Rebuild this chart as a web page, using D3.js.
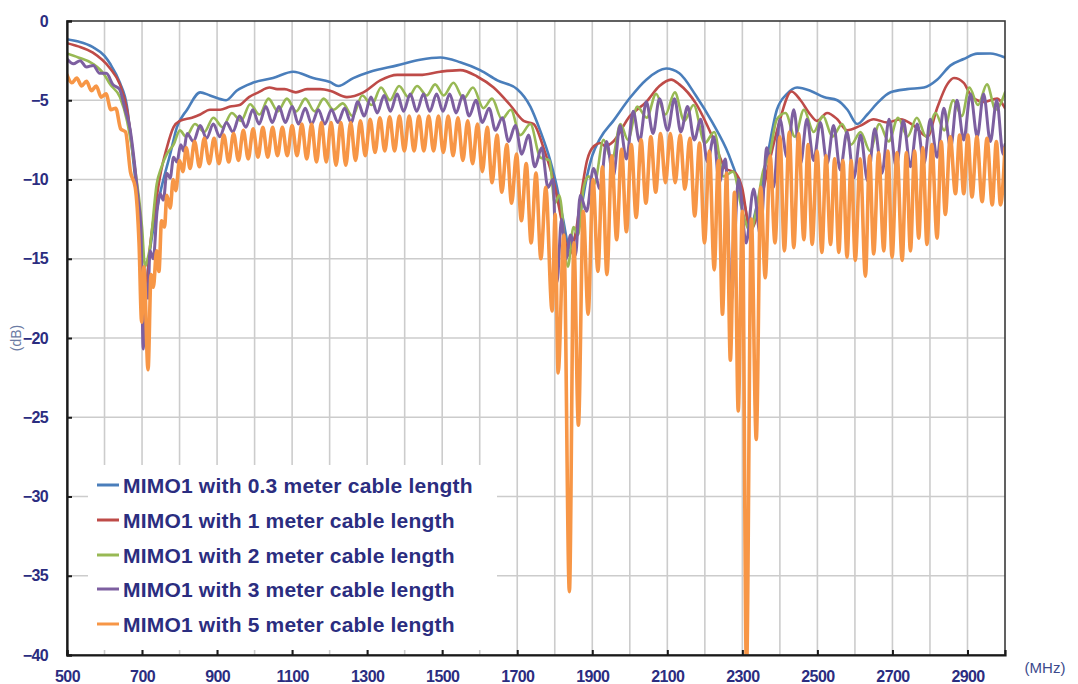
<!DOCTYPE html>
<html><head><meta charset="utf-8">
<script src="https://cdn.jsdelivr.net/npm/d3@7"></script>
<style>body{margin:0;background:#fff}svg{display:block}</style>
</head><body><svg id="c" width="1078" height="684"></svg>
<script>
const xTickLabels=[500,700,900,1100,1300,1500,1700,1900,2100,2300,2500,2700,2900];
const yTickLabels=[0,-5,-10,-15,-20,-25,-30,-35,-40];
const seriesNames=["MIMO1 with 0.3 meter cable length","MIMO1 with 1 meter cable length","MIMO1 with 2 meter cable length","MIMO1 with 3 meter cable length","MIMO1 with 5 meter cable length"];
const seriesColors=["#4a7ebb","#be4b48","#98b954","#7d5fa0","#f79646"];

// [MHz, dB]
const cable03=[[500,-1.15],[530,-1.3],[569,-1.65],[600,-2.2],[615,-2.7],[641,-3.9],[660,-5.4],[673,-8.0],[686,-10.9],[695,-13.0],[705,-17.8],[712,-16.5],[721,-14.5],[735,-12.5],[748,-10.9],[775,-8.4],[793,-6.7],[820,-5.6],[855,-4.5],[881,-4.7],[924,-5.0],[952,-4.4],[995,-3.9],[1049,-3.6],[1103,-3.2],[1156,-3.6],[1201,-3.85],[1223,-4.1],[1263,-3.6],[1308,-3.2],[1380,-2.8],[1441,-2.44],[1495,-2.3],[1548,-2.6],[1601,-3.1],[1647,-3.75],[1700,-4.3],[1735,-5.4],[1761,-6.9],[1788,-8.8],[1806,-10.5],[1822,-12.5],[1840,-14.3],[1855,-13.5],[1866,-12.4],[1886,-9.8],[1900,-8.5],[1921,-7.4],[1956,-6.3],[2000,-4.86],[2044,-3.7],[2097,-3.0],[2132,-3.3],[2176,-4.7],[2220,-6.4],[2264,-8.45],[2290,-10.2],[2305,-11.5],[2321,-13.0],[2340,-11.5],[2366,-8.6],[2392,-5.6],[2419,-4.6],[2446,-4.2],[2481,-4.4],[2517,-4.8],[2553,-5.0],[2580,-5.6],[2606,-6.5],[2633,-5.9],[2659,-5.2],[2695,-4.5],[2739,-4.3],[2784,-4.2],[2819,-3.7],[2855,-2.8],[2890,-2.4],[2926,-2.06],[2961,-2.05],[3000,-2.3]];

const cable1=[[500,-1.4],[530,-1.6],[569,-2.0],[615,-3.0],[641,-4.0],[660,-5.6],[673,-7.8],[686,-10.5],[695,-13.0],[705,-18.0],[712,-16.8],[721,-14.3],[735,-11.8],[748,-9.8],[766,-8.0],[784,-6.7],[801,-6.3],[833,-6.1],[855,-5.9],[881,-5.6],[908,-5.6],[935,-5.4],[960,-5.3],[985,-4.8],[1010,-4.5],[1040,-4.2],[1060,-4.3],[1080,-4.3],[1110,-4.5],[1140,-4.3],[1175,-4.3],[1201,-4.4],[1246,-4.8],[1290,-4.5],[1335,-3.75],[1380,-3.4],[1441,-3.4],[1495,-3.2],[1548,-3.1],[1593,-3.5],[1637,-4.2],[1681,-5.3],[1717,-6.3],[1744,-6.5],[1770,-8.0],[1797,-10.1],[1820,-12.8],[1838,-14.8],[1855,-13.5],[1870,-11.0],[1886,-8.8],[1904,-7.9],[1921,-7.7],[1935,-7.9],[1956,-7.6],[2000,-6.0],[2044,-5.1],[2079,-4.1],[2110,-3.7],[2132,-4.0],[2176,-5.2],[2220,-7.3],[2255,-9.3],[2282,-9.6],[2299,-10.5],[2321,-13.2],[2343,-12.0],[2369,-9.2],[2396,-6.6],[2431,-4.45],[2455,-5.0],[2481,-5.9],[2499,-6.3],[2526,-5.8],[2553,-6.2],[2579,-6.9],[2615,-6.6],[2650,-6.2],[2686,-6.4],[2721,-6.2],[2757,-6.6],[2793,-7.3],[2819,-5.5],[2846,-4.0],[2864,-3.6],[2890,-3.9],[2912,-4.8],[2944,-5.1],[2979,-4.9],[3000,-5.5]];

const cable2=[[500,-2.05],[530,-2.3],[569,-2.7],[600,-3.4],[615,-4.0],[641,-4.8],[660,-6.3],[673,-8.0],[686,-10.1],[695,-11.8],[700,-13.0],[708,-15.5],[715,-15.0],[721,-14.3],[739,-10.3],[752,-9.2],[766,-8.4],[784,-7.8],[801,-6.9],[817,-7.3],[841,-6.5],[866,-7.0],[890,-6.1],[915,-6.7],[939,-5.8],[964,-6.3],[988,-5.25],[1013,-5.9],[1037,-4.9],[1062,-5.7],[1086,-4.9],[1111,-5.7],[1135,-4.9],[1160,-5.7],[1184,-4.9],[1210,-5.6],[1235,-5.2],[1261,-6.0],[1287,-4.7],[1312,-5.3],[1337,-4.2],[1361,-5.0],[1385,-4.1],[1410,-4.8],[1433,-4.1],[1459,-4.7],[1481,-4.0],[1504,-4.7],[1530,-3.9],[1557,-4.9],[1582,-4.2],[1610,-5.5],[1633,-4.9],[1659,-6.2],[1683,-5.6],[1708,-7.2],[1735,-6.5],[1761,-8.6],[1786,-8.8],[1800,-11.5],[1812,-11.0],[1835,-15.5],[1850,-13.0],[1862,-13.5],[1877,-10.5],[1890,-9.8],[1905,-10.3],[1930,-7.5],[1952,-8.8],[1975,-6.5],[1995,-7.5],[2020,-5.4],[2045,-6.1],[2070,-4.6],[2095,-5.9],[2120,-4.5],[2145,-6.3],[2170,-5.3],[2200,-7.7],[2225,-7.0],[2250,-9.8],[2275,-9.5],[2300,-12.0],[2322,-13.3],[2340,-11.5],[2355,-9.5],[2372,-8.5],[2392,-6.2],[2415,-5.8],[2440,-7.3],[2464,-5.6],[2490,-7.0],[2515,-6.0],[2540,-7.3],[2566,-6.5],[2590,-7.8],[2615,-7.0],[2640,-8.2],[2665,-6.5],[2690,-7.6],[2715,-6.1],[2740,-7.3],[2765,-6.1],[2790,-7.3],[2815,-5.8],[2838,-6.9],[2862,-5.0],[2885,-6.0],[2905,-4.2],[2928,-5.3],[2952,-4.0],[2975,-5.6],[3000,-4.5]];

const cable3=[[500,-2.4],[517,-2.7],[535,-2.5],[552,-2.9],[570,-2.8],[587,-3.3],[605,-3.3],[622,-4.0],[640,-4.3],[655,-5.6],[668,-6.8],[680,-9.0],[690,-11.3],[697,-13.0],[703,-20.7],[710,-16.5],[716,-17.5],[721,-14.5],[730,-15.0],[740,-12.0],[748,-10.9],[757,-11.3],[766,-9.6],[775,-9.9],[784,-8.6],[793,-8.9],[803,-7.8],[811,-8.2],[820,-7.1],[837,-7.6],[855,-6.6],[872,-7.4],[890,-6.5],[907,-7.3],[925,-6.4],[942,-7.0],[960,-6.0],[977,-6.7],[995,-5.6],[1012,-6.5],[1030,-5.4],[1047,-6.4],[1065,-5.4],[1082,-6.4],[1100,-5.4],[1117,-6.5],[1135,-5.5],[1152,-6.5],[1170,-5.6],[1187,-6.5],[1205,-5.6],[1222,-6.4],[1240,-5.5],[1257,-6.4],[1275,-5.1],[1292,-6.0],[1310,-4.8],[1327,-5.8],[1345,-4.7],[1362,-5.7],[1380,-4.6],[1397,-5.7],[1415,-4.6],[1432,-5.7],[1450,-4.6],[1467,-5.7],[1485,-4.6],[1502,-5.7],[1520,-4.6],[1537,-5.8],[1555,-4.7],[1572,-6.0],[1590,-5.0],[1607,-6.4],[1625,-5.5],[1642,-6.9],[1660,-6.1],[1677,-7.6],[1695,-6.6],[1712,-8.4],[1730,-7.2],[1747,-9.2],[1765,-8.0],[1782,-10.5],[1795,-10.0],[1806,-16.5],[1818,-12.5],[1830,-15.0],[1842,-13.5],[1855,-14.8],[1868,-11.0],[1885,-12.0],[1903,-9.3],[1921,-10.6],[1938,-7.6],[1956,-9.8],[1974,-6.6],[1991,-8.7],[2009,-5.7],[2026,-7.6],[2044,-5.1],[2062,-7.1],[2079,-4.9],[2101,-6.9],[2119,-4.9],[2136,-7.0],[2154,-5.4],[2172,-7.5],[2189,-6.2],[2207,-8.9],[2224,-7.3],[2238,-10.2],[2255,-8.7],[2270,-17.7],[2290,-10.0],[2310,-14.0],[2330,-10.6],[2348,-13.5],[2365,-8.0],[2383,-10.5],[2400,-6.2],[2419,-8.6],[2437,-5.6],[2455,-9.0],[2472,-6.2],[2490,-8.8],[2508,-6.4],[2526,-9.0],[2543,-6.6],[2561,-9.4],[2579,-7.0],[2597,-9.9],[2615,-7.2],[2634,-10.1],[2653,-6.8],[2672,-9.6],[2691,-6.2],[2710,-9.2],[2729,-6.3],[2748,-9.2],[2766,-6.5],[2784,-9.0],[2801,-6.2],[2819,-8.6],[2837,-5.5],[2855,-8.0],[2872,-5.0],[2890,-7.5],[2908,-4.6],[2926,-7.3],[2943,-4.6],[2961,-7.6],[2978,-5.0],[2995,-8.4],[3000,-7.8]];

const cable5=[[500,-3.4],[513,-3.9],[526,-3.6],[539,-4.1],[552,-3.8],[565,-4.4],[578,-4.1],[591,-4.8],[604,-4.6],[617,-5.6],[630,-5.5],[643,-6.8],[656,-7.0],[669,-9.5],[682,-10.5],[692,-14.0],[699,-19.0],[705,-15.5],[716,-22.0],[724,-16.0],[730,-16.8],[739,-14.5],[745,-15.8],[752,-12.6],[760,-13.0],[766,-11.0],[775,-11.8],[783,-10.0],[790,-10.7],[800,-8.8],[809,-9.5],[818,-8.0],[828,-9.3],[840,-7.6],[853,-9.2],[866,-7.4],[879,-9.0],[892,-7.4],[905,-9.0],[918,-7.2],[931,-8.9],[944,-7.1],[957,-8.8],[970,-6.9],[983,-8.7],[996,-6.8],[1009,-8.6],[1022,-6.7],[1035,-8.6],[1048,-6.7],[1061,-8.5],[1074,-6.7],[1087,-8.5],[1100,-6.6],[1113,-8.5],[1126,-6.5],[1139,-8.7],[1152,-6.5],[1165,-8.9],[1178,-6.4],[1191,-8.9],[1204,-6.4],[1217,-9.1],[1230,-6.4],[1243,-9.1],[1256,-6.4],[1269,-8.8],[1282,-6.3],[1295,-8.5],[1308,-6.2],[1321,-8.3],[1334,-6.1],[1347,-8.2],[1360,-6.05],[1373,-8.2],[1386,-6.0],[1399,-8.2],[1412,-6.0],[1425,-8.2],[1438,-6.0],[1451,-8.2],[1464,-6.0],[1477,-8.2],[1490,-6.0],[1503,-8.3],[1516,-6.0],[1529,-8.5],[1542,-6.1],[1555,-8.8],[1568,-6.3],[1581,-9.0],[1594,-6.5],[1607,-9.5],[1620,-6.7],[1633,-10.2],[1646,-7.2],[1659,-10.8],[1672,-7.8],[1685,-11.5],[1698,-8.4],[1711,-12.6],[1724,-9.0],[1737,-14.0],[1750,-9.6],[1763,-15.0],[1776,-10.5],[1793,-18.3],[1801,-12.2],[1809,-22.2],[1824,-13.5],[1839,-36.0],[1851,-14.0],[1863,-25.5],[1876,-12.0],[1889,-18.5],[1902,-10.0],[1915,-15.8],[1927,-9.2],[1939,-16.0],[1952,-8.5],[1965,-13.8],[1978,-8.1],[1991,-13.3],[2004,-7.8],[2017,-12.4],[2030,-7.5],[2043,-11.5],[2056,-7.3],[2069,-10.8],[2082,-7.1],[2095,-10.2],[2108,-7.1],[2121,-10.2],[2134,-7.2],[2147,-10.6],[2160,-7.4],[2173,-12.3],[2186,-7.7],[2199,-14.0],[2212,-8.2],[2225,-15.7],[2236,-8.8],[2247,-18.5],[2258,-9.6],[2268,-21.4],[2279,-10.8],[2289,-24.6],[2300,-12.0],[2311,-41.0],[2324,-12.5],[2337,-26.4],[2349,-10.5],[2361,-16.2],[2374,-8.5],[2387,-14.0],[2400,-7.3],[2412,-14.5],[2425,-7.0],[2437,-14.3],[2450,-7.1],[2464,-13.8],[2475,-7.8],[2486,-14.1],[2499,-8.2],[2512,-14.6],[2523,-8.5],[2535,-14.1],[2546,-8.7],[2557,-14.6],[2568,-8.8],[2579,-14.9],[2590,-8.8],[2601,-15.1],[2614,-8.7],[2628,-16.1],[2639,-8.5],[2650,-14.7],[2663,-8.3],[2677,-14.5],[2688,-8.2],[2699,-14.9],[2712,-8.3],[2726,-15.1],[2737,-8.3],[2748,-14.5],[2759,-8.2],[2770,-13.7],[2781,-8.0],[2792,-14.1],[2805,-7.8],[2819,-13.7],[2830,-7.6],[2841,-12.2],[2854,-7.3],[2868,-10.9],[2879,-7.2],[2890,-10.9],[2901,-7.2],[2912,-11.1],[2925,-7.3],[2939,-11.4],[2952,-7.4],[2966,-11.6],[2977,-7.6],[2988,-11.6],[3000,-8.0]];

const seriesData=[cable03,cable1,cable2,cable3,cable5];
const strokeWidths=[2.6,2.6,2.6,3,3.6];

const svg=d3.select("#c");
const L=67,R=1005,T=21,B=655;
const x=d3.scaleLinear().domain([500,3000]).range([L,R]);
const y=d3.scaleLinear().domain([-40,0]).range([B,T]);
const navy="#2b2d80";

svg.append("defs").append("clipPath").attr("id","clip")
  .append("rect").attr("x",L).attr("y",T).attr("width",R-L).attr("height",B-T);

// gridlines
const grid=svg.append("g");
grid.selectAll(".vg").data(x.ticks(25).filter(d=>d>500&&d<3000)).enter().append("line")
  .attr("x1",d=>x(d)).attr("x2",d=>x(d)).attr("y1",T).attr("y2",B)
  .attr("stroke","#cccccc").attr("stroke-width",1.6);
grid.selectAll(".hg").data(yTickLabels.filter(d=>d>-40&&d<0)).enter().append("line")
  .attr("x1",L).attr("x2",R).attr("y1",d=>y(d)).attr("y2",d=>y(d))
  .attr("stroke","#cccccc").attr("stroke-width",1.6);

// series
const line=d3.line().x(d=>x(d[0])).y(d=>y(d[1])).curve(d3.curveMonotoneX);
const lines=svg.append("g").attr("clip-path","url(#clip)");
seriesData.forEach((s,i)=>{
  lines.append("path").datum(s).attr("d",line).attr("fill","none")
    .attr("stroke",seriesColors[i]).attr("stroke-width",strokeWidths[i])
    .attr("stroke-linejoin","round").attr("stroke-linecap","round");
});

// legend
const lg=svg.append("g");
lg.append("rect").attr("x",88).attr("y",465).attr("width",409).attr("height",185).attr("fill","#fff");
const rowY=[485,520,555,589,624];
seriesNames.forEach((n,i)=>{
  lg.append("line").attr("x1",97).attr("x2",119).attr("y1",rowY[i]).attr("y2",rowY[i])
    .attr("stroke",seriesColors[i]).attr("stroke-width",3);
  lg.append("text").attr("x",123).attr("y",rowY[i]).attr("dy","0.36em")
    .attr("font-family","Liberation Sans, Arial, sans-serif").attr("font-weight","bold")
    .attr("font-size",21).attr("fill",navy).attr("letter-spacing",0.2).text(n);
});

// frame
svg.append("rect").attr("x",L).attr("y",T).attr("width",R-L).attr("height",B-T)
  .attr("fill","none").attr("stroke","#3a3a3a").attr("stroke-width",1.6);

// axes
const xAxis=d3.axisBottom(x).tickValues(xTickLabels).tickSize(-5).tickPadding(16).tickFormat(d3.format("d"));
const gx=svg.append("g").attr("transform",`translate(0,${B})`).call(xAxis);
gx.select(".domain").attr("stroke","#1a1a1a").attr("stroke-width",2.2);
gx.selectAll(".tick line").attr("stroke","#1a1a1a").attr("stroke-width",2);
gx.selectAll("text").attr("font-family","Liberation Sans, Arial, sans-serif").attr("font-weight","bold")
  .attr("font-size",16).attr("fill",navy).attr("letter-spacing",-0.6);

const yAxis=d3.axisLeft(y).tickValues(yTickLabels).tickSize(-5).tickPadding(19).tickFormat(d3.format("d"));
const gy=svg.append("g").attr("transform",`translate(${L},0)`).call(yAxis);
gy.select(".domain").attr("stroke","#1a1a1a").attr("stroke-width",2.2);
gy.selectAll(".tick line").attr("stroke","#1a1a1a").attr("stroke-width",2);
gy.selectAll("text").attr("font-family","Liberation Sans, Arial, sans-serif").attr("font-weight","bold")
  .attr("font-size",16).attr("fill",navy).attr("letter-spacing",-0.6);

// axis titles
svg.append("text").attr("transform","translate(21,338) rotate(-90)").attr("text-anchor","middle")
  .attr("font-family","Liberation Sans, Arial, sans-serif").attr("font-size",14).attr("fill","#6b7aa3").text("(dB)");
svg.append("text").attr("x",1045).attr("y",668).attr("dy","0.35em").attr("text-anchor","middle")
  .attr("font-family","Liberation Sans, Arial, sans-serif").attr("font-size",15).attr("fill","#3c4a8c").text("(MHz)");
</script></body></html>
